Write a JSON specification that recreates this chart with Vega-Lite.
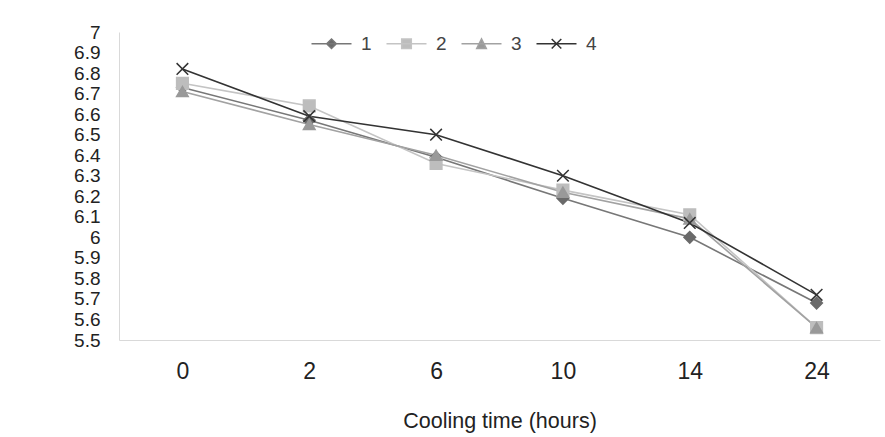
{
  "$schema": "https://vega.github.io/schema/vega-lite/v6.json",
  "width": 761,
  "height": 308,
  "autosize": {"type": "none"},
  "padding": {"left": 119, "top": 32, "right": 5, "bottom": 97},
  "background": "white",
  "config": {
    "font": "Liberation Sans",
    "view": {"stroke": null},
    "axis": {"domainColor": "#d9d9d9", "domainWidth": 1, "ticks": false, "grid": false}
  },
  "data": {
    "values": [
      {"t": 0, "series": "1", "v": 6.73}, {"t": 0, "series": "2", "v": 6.75}, {"t": 0, "series": "3", "v": 6.71}, {"t": 0, "series": "4", "v": 6.82},
      {"t": 2, "series": "1", "v": 6.57}, {"t": 2, "series": "2", "v": 6.64}, {"t": 2, "series": "3", "v": 6.55}, {"t": 2, "series": "4", "v": 6.59},
      {"t": 6, "series": "1", "v": 6.39}, {"t": 6, "series": "2", "v": 6.36}, {"t": 6, "series": "3", "v": 6.40}, {"t": 6, "series": "4", "v": 6.50},
      {"t": 10, "series": "1", "v": 6.19}, {"t": 10, "series": "2", "v": 6.23}, {"t": 10, "series": "3", "v": 6.22}, {"t": 10, "series": "4", "v": 6.30},
      {"t": 14, "series": "1", "v": 6.00}, {"t": 14, "series": "2", "v": 6.11}, {"t": 14, "series": "3", "v": 6.09}, {"t": 14, "series": "4", "v": 6.07},
      {"t": 24, "series": "1", "v": 5.68}, {"t": 24, "series": "2", "v": 5.56}, {"t": 24, "series": "3", "v": 5.56}, {"t": 24, "series": "4", "v": 5.72}
    ]
  },
  "encoding": {
    "x": {
      "field": "t", "type": "ordinal", "sort": "ascending",
      "scale": {"type": "point", "padding": 0.5},
      "axis": {"title": "Cooling time (hours)", "labelAngle": 0, "labelFontSize": 23, "labelColor": "#222", "labelPadding": 20, "titleFontSize": 21.5, "titleFontWeight": "normal", "titleColor": "#222", "titlePadding": 27}
    },
    "y": {
      "field": "v", "type": "quantitative",
      "scale": {"domain": [5.5, 7], "nice": false, "zero": false},
      "axis": {"title": null, "values": [5.5, 5.6, 5.7, 5.8, 5.9, 6, 6.1, 6.2, 6.3, 6.4, 6.5, 6.6, 6.7, 6.8, 6.9, 7], "format": ".1~f", "labelFontSize": 19, "labelColor": "#222", "labelPadding": 19, "labelOverlap": false, "labelBound": false, "labelFlush": false}
    }
  },
  "layer": [
    {
      "mark": {"type": "line", "strokeWidth": 1.6},
      "encoding": {
        "stroke": {"field": "series", "type": "nominal", "legend": null,
          "scale": {"domain": ["1", "2", "3", "4"], "range": ["#777777", "#c4c4c4", "#a2a2a2", "#333333"]}}
      }
    },
    {
      "mark": {"type": "point", "filled": true, "strokeWidth": 1.5, "opacity": 1, "size": 135},
      "encoding": {
        "fill": {"field": "series", "type": "nominal", "legend": null,
          "scale": {"domain": ["1", "2", "3", "4"], "range": ["#6a6a6a", "#bdbdbd", "#999999", "#333333"]}},
        "stroke": {"field": "series", "type": "nominal", "legend": null,
          "scale": {"domain": ["1", "2", "3", "4"], "range": ["#6a6a6a", "#bdbdbd", "#999999", "#333333"]}},
        "shape": {"field": "series", "type": "nominal", "legend": null,
          "scale": {"domain": ["1", "2", "3", "4"], "range": ["diamond", "square", "triangle-up", "M-1,-1L1,1M-1,1L1,-1"]}}
      }
    },
    {
      "mark": {"type": "point", "filled": true, "strokeWidth": 1.5, "opacity": 0, "size": 64},
      "encoding": {
        "fill": {"field": "series", "type": "nominal",
          "scale": {"domain": ["1", "2", "3", "4"], "range": ["#6a6a6a", "#bdbdbd", "#999999", "#333333"]}},
        "stroke": {"field": "series", "type": "nominal",
          "scale": {"domain": ["1", "2", "3", "4"], "range": ["#777777", "#c4c4c4", "#a2a2a2", "#333333"]}},
        "shape": {"field": "series", "type": "nominal",
          "scale": {"domain": ["1", "2", "3", "4"], "range": ["M-5,0H5M0,-1.2L1.2,0L0,1.2L-1.2,0Z", "M-5,0H5M-1.2,-1.2H1.2V1.2H-1.2Z", "M-5,0H5M0,-1.2L1.2,1.2H-1.2Z", "M-5,0H5M-1.2,-1.2L1.2,1.2M-1.2,1.2L1.2,-1.2"]},
          "legend": {"title": null, "orient": "none", "direction": "horizontal", "legendX": 203, "legendY": 2, "symbolSize": 64, "symbolOpacity": 1, "symbolStrokeWidth": 1.5, "labelFontSize": 19, "labelColor": "#444", "columnPadding": 11, "labelOffset": 20}
        }
      }
    }
  ],
  "resolve": {"scale": {"shape": "independent", "stroke": "independent", "fill": "independent"}}
}
